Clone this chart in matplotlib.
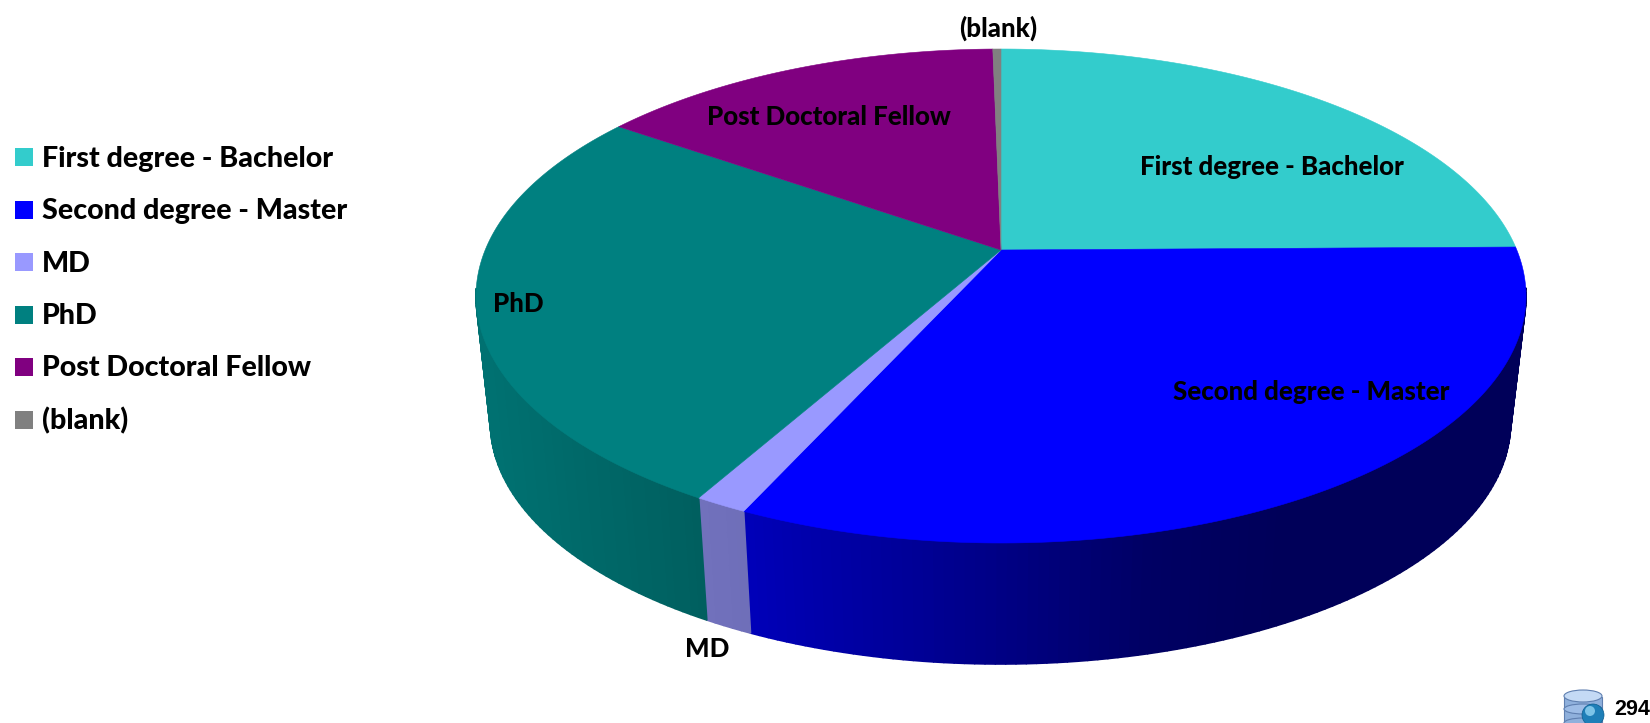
import numpy as np
import matplotlib
matplotlib.use("Agg")
import matplotlib.pyplot as plt
from matplotlib.collections import PolyCollection
from matplotlib.patches import Circle, Ellipse, Rectangle

categories = ["First degree - Bachelor", "Second degree - Master", "MD", "PhD",
              "Post Doctoral Fellow", "(blank)"]
shares = [24.8, 32.0, 1.37, 26.53, 15.0, 0.3]
colors = ["#33CCCC", "#0000FF", "#9999FF", "#008080", "#800080", "#808080"]
total_count = "294"

plt.rcParams["font.family"] = ["Lato", "DejaVu Sans"]

fig = plt.figure(figsize=(16.5, 7.23), dpi=100)
ax = fig.add_axes([0, 0, 1, 1])
ax.set_xlim(0, 1650)
ax.set_ylim(723, 0)
ax.axis("off")

# top face ellipse, bottom rim ellipse (pixels), p moves the pie centre up for perspective
tx, ty, ta, tb = 1001, 296, 525, 247
bx, by, ba, bb = 1000.5, 423, 510, 241
p = 46 / 247


def rim(theta):
    # theta clockwise from the top, gives unit ellipse coords after perspective
    u = np.sin(theta)
    v = np.cos(theta)
    return np.sqrt(1 - p * p) * u / (1 + p * v), (v + p) / (1 + p * v)


def shade(x):
    return np.interp(x, [490, 700, 750, 1000, 1150, 1280, 1530],
                     [0.88, 0.74, 0.72, 0.52, 0.39, 0.35, 0.35])


edges = np.concatenate([[0], np.cumsum(shares)]) / np.sum(shares) * 2 * np.pi

# side wall, only the front of the rim shows
for i in range(len(shares)):
    th = np.linspace(edges[i], edges[i + 1], max(int((edges[i + 1] - edges[i]) * 60), 2) + 1)
    X, Y = rim(th)
    top_x, top_y = tx + ta * X, ty - tb * Y
    bot_x, bot_y = bx + ba * X, by - bb * Y
    quads = []
    cols = []
    base = np.array(matplotlib.colors.to_rgb(colors[i]))
    for j in range(len(th) - 1):
        if Y[j] > 0.02 and Y[j + 1] > 0.02:
            continue
        quads.append([(top_x[j], top_y[j]), (top_x[j + 1], top_y[j + 1]),
                      (bot_x[j + 1], bot_y[j + 1]), (bot_x[j], bot_y[j])])
        cols.append(base * shade((top_x[j] + top_x[j + 1]) / 2))
    if quads:
        ax.add_collection(PolyCollection(quads, facecolors=cols, edgecolors=cols, linewidths=1.2, zorder=2))

# top face
apex_x, apex_y = tx, ty - tb * p
for i in range(len(shares)):
    th = np.linspace(edges[i], edges[i + 1], max(int((edges[i + 1] - edges[i]) * 90), 2) + 1)
    X, Y = rim(th)
    xs = np.concatenate([[apex_x], tx + ta * X])
    ys = np.concatenate([[apex_y], ty - tb * Y])
    ax.fill(xs, ys, color=colors[i], lw=0.4, zorder=3)

# slice labels
label_pos = [(1272, 167), (1311, 392), (707, 649), (518, 304), (829, 117), (998, 28)]
for name, (lx, ly) in zip(categories, label_pos):
    ax.text(lx, ly, name, fontsize=18.6, fontweight="black", color="black",
            ha="center", va="center", zorder=5)

# legend
legend_y = [158.5, 211, 263.5, 316, 368.5, 421]
for name, col, ly in zip(categories, colors, legend_y):
    ax.add_patch(Rectangle((15, ly - 10.5), 18, 18, color=col, lw=0, zorder=4))
    ax.text(42, ly, name, fontsize=20.6, fontweight="black", color="black",
            ha="left", va="center", zorder=5)

# database icon and record count
ax.add_patch(Rectangle((1564, 697), 38, 30, facecolor="#8FB0DC", edgecolor="#5F7FB0", lw=0.8, zorder=4))
ax.add_patch(Ellipse((1583, 723), 38, 10, facecolor="#8FB0DC", edgecolor="#5F7FB0", lw=0.8, zorder=4))
ax.add_patch(Ellipse((1583, 709), 38, 10, facecolor="#9DBCE6", edgecolor="#5F7FB0", lw=0.8, zorder=4))
ax.add_patch(Ellipse((1583, 696), 38, 12, facecolor="#C4DAF5", edgecolor="#5F7FB0", lw=0.8, zorder=4))
ax.add_patch(Circle((1593, 715), 11, facecolor="#1E7FB8", edgecolor="#0F5F90", lw=0.5, zorder=5))
ax.add_patch(Circle((1590, 711), 5, facecolor="#7CC4E8", lw=0, zorder=5))
ax.text(1614, 709.5, total_count, fontsize=15.5, fontweight="bold", color="black",
        family=["Liberation Sans", "DejaVu Sans"], ha="left", va="center", zorder=5)

fig.savefig("out.png", dpi=100, facecolor="white")
